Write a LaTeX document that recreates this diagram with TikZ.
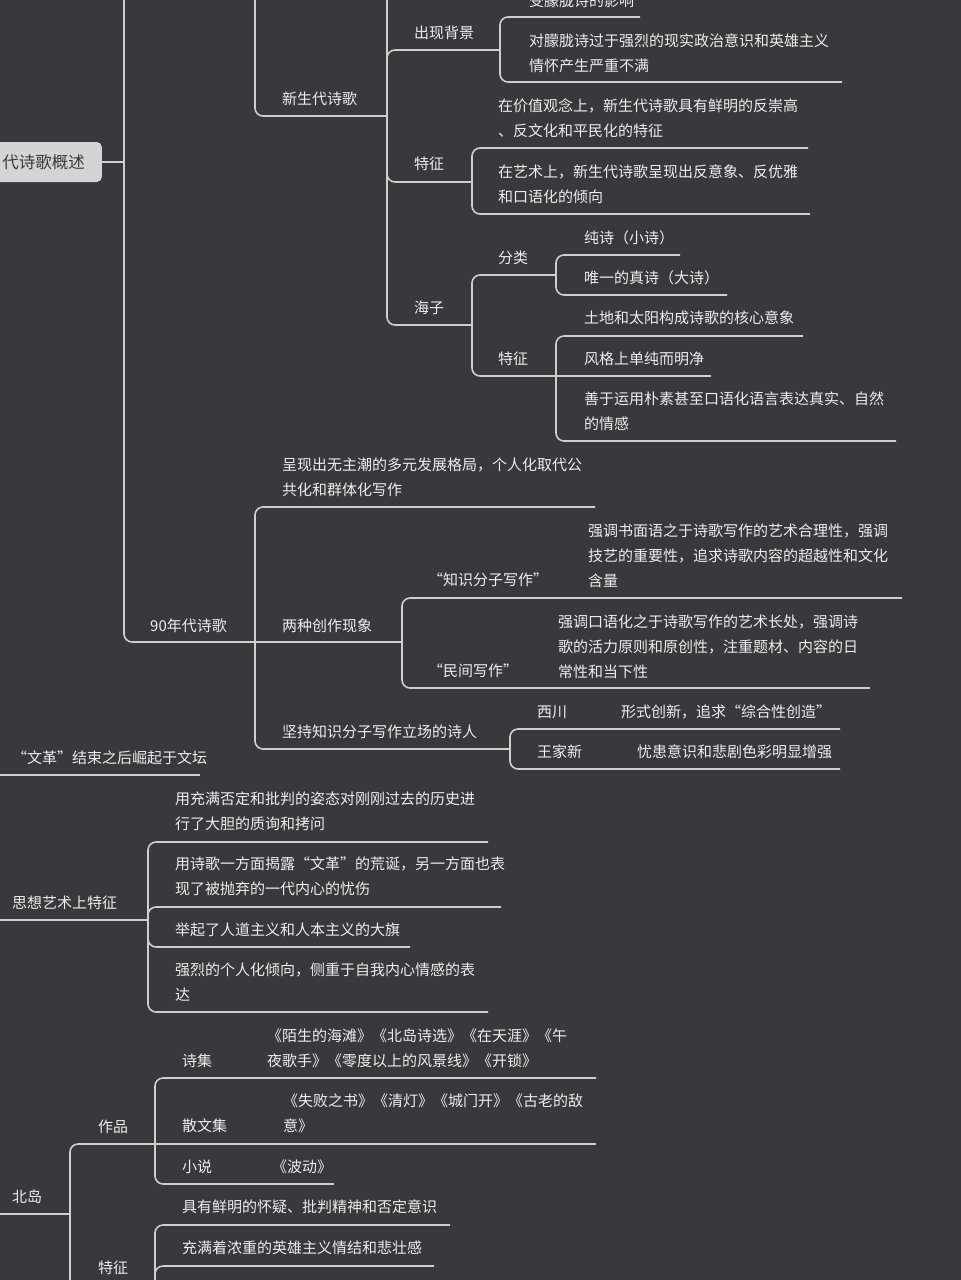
\documentclass[tikz,border=0pt]{standalone}
\usepackage{fontspec}
\setmainfont{Noto Sans CJK SC}
\definecolor{bg}{HTML}{38393D}
\definecolor{ln}{HTML}{CFCFCF}
\definecolor{tx}{HTML}{EDEDED}
\begin{document}
\begin{tikzpicture}[x=1pt,y=-1pt,
  ln/.style={draw=ln,line width=1.6pt,rounded corners=8pt},
  t/.style={anchor=west,inner sep=0pt,text=tx,align=left,font=\fontsize{15}{25}\selectfont}]
\fill[bg] (0,0) rectangle (961,1280);
\useasboundingbox (0,0) rectangle (961,1280);
% root box
\node[fill=ln!90!white,rounded corners=5pt,anchor=east,minimum height=40pt,inner xsep=17pt,text=bg,font=\fontsize{16.5}{18}\selectfont] (root) at (102,162) {代诗歌概述};
\fill[bg] (-20,0) rectangle (0,1280);
% lines
\draw[ln] (root.east) -- (124,162);
\draw[ln] (124,0) |- (255,642);
\draw[ln] (255,0) |- (387,116);
\draw[ln] (255,642) |- (595,507);
\draw[ln] (255,642) -- (402,642);
\draw[ln] (255,642) |- (510,749);
\draw[ln] (387,0) -- (387,116);
\draw[ln] (387,116) |- (500,50);
\draw[ln] (387,116) |- (472,182);
\draw[ln] (387,116) |- (472,325);
\draw[ln] (500,50) |- (640,17);
\draw[ln] (500,50) |- (842,82);
\draw[ln] (472,182) |- (808,148);
\draw[ln] (472,182) |- (810,214);
\draw[ln] (472,325) |- (556,275);
\draw[ln] (472,325) |- (556,376);
\draw[ln] (556,275) |- (680,255);
\draw[ln] (556,275) |- (727,295);
\draw[ln] (556,376) |- (803,336);
\draw[ln] (556,376) -- (711,376);
\draw[ln] (556,376) |- (896,441);
\draw[ln] (402,642) |- (902,598);
\draw[ln] (402,642) |- (870,688);
\draw[ln] (510,749) |- (840,729);
\draw[ln] (510,749) |- (840,769);
\draw[ln] (0,775) -- (200,775);
\draw[ln] (0,920) -- (148,920);
\draw[ln] (148,920) |- (488,842);
\draw[ln] (148,920) |- (501,907);
\draw[ln] (148,920) |- (410,947);
\draw[ln] (148,920) |- (488,1012);
\draw[ln] (0,1214) -- (70,1214);
\draw[ln] (70,1214) |- (155,1144);
\draw[ln] (70,1214) -- (70,1290);
\draw[ln] (155,1144) |- (596,1078);
\draw[ln] (155,1144) -- (596,1144);
\draw[ln] (155,1144) |- (334,1184);
\draw[ln] (155,1295) |- (450,1225);
\draw[ln] (155,1295) |- (434,1266);
% texts
\node[t] (a1) at (282,99) {新生代诗歌};
\node[t] (a2) at (414,33) {出现背景};
\node[t] (a3) at (414,164) {特征};
\node[t] (a4) at (414,308) {海子};
\node[t] (b1) at (529,1) {受朦胧诗的影响};
\node[t] (b2) at (529,53.5) {对朦胧诗过于强烈的现实政治意识和英雄主义\\情怀产生严重不满};
\node[t] (b3) at (498,118.5) {在价值观念上，新生代诗歌具有鲜明的反崇高\\、反文化和平民化的特征};
\node[t] (b4) at (498,184.5) {在艺术上，新生代诗歌呈现出反意象、反优雅\\和口语化的倾向};
\node[t] (c1) at (498,258) {分类};
\node[t] (c2) at (498,359) {特征};
\node[t] (d1) at (584,238) {纯诗（小诗）};
\node[t] (d2) at (584,278) {唯一的真诗（大诗）};
\node[t] (d3) at (584,318) {土地和太阳构成诗歌的核心意象};
\node[t] (d4) at (584,359) {风格上单纯而明净};
\node[t] (d5) at (584,411.5) {善于运用朴素甚至口语化语言表达真实、自然\\的情感};
\node[t] (e0) at (150,626) {90年代诗歌};
\node[t] (e1) at (282,477.5) {呈现出无主潮的多元发展格局，个人化取代公\\共化和群体化写作};
\node[t] (e2) at (282,626) {两种创作现象};
\node[t] (e3) at (282,732) {坚持知识分子写作立场的诗人};
\node[t] (f1) at (428,580) {“知识分子写作”};
\node[t] (f1d) at (588,555.5) {强调书面语之于诗歌写作的艺术合理性，强调\\技艺的重要性，追求诗歌内容的超越性和文化\\含量};
\node[t] (f2) at (428,671) {“民间写作”};
\node[t] (f2d) at (558,646.5) {强调口语化之于诗歌写作的艺术长处，强调诗\\歌的活力原则和原创性，注重题材、内容的日\\常性和当下性};
\node[t] (g1) at (537,712) {西川};
\node[t] (g1d) at (621,712) {形式创新，追求“综合性创造”};
\node[t] (g2) at (537,752) {王家新};
\node[t] (g2d) at (637,752) {忧患意识和悲剧色彩明显增强};
\node[t] (h1) at (12,758) {“文革”结束之后崛起于文坛};
\node[t] (h2) at (12,903) {思想艺术上特征};
\node[t] (i1) at (175,811.5) {用充满否定和批判的姿态对刚刚过去的历史进\\行了大胆的质询和拷问};
\node[t] (i2) at (175,876.5) {用诗歌一方面揭露“文革”的荒诞，另一方面也表\\现了被抛弃的一代内心的忧伤};
\node[t] (i3) at (175,930) {举起了人道主义和人本主义的大旗};
\node[t] (i4) at (175,982.5) {强烈的个人化倾向，侧重于自我内心情感的表\\达};
\node[t] (j0) at (12,1197) {北岛};
\node[t] (j1) at (98,1127) {作品};
\node[t] (j2) at (98,1268) {特征};
\node[t] (k1) at (182,1061) {诗集};
\node[t] (k1d) at (267,1048.5) {《陌生的海滩》《北岛诗选》《在天涯》《午\\夜歌手》《零度以上的风景线》《开锁》};
\node[t] (k2) at (182,1126) {散文集};
\node[t] (k2d) at (283,1113.5) {《失败之书》《清灯》《城门开》《古老的敌\\意》};
\node[t] (k3) at (182,1167) {小说};
\node[t] (k3d) at (272,1167) {《波动》};
\node[t] (l1) at (182,1207) {具有鲜明的怀疑、批判精神和否定意识};
\node[t] (l2) at (182,1248) {充满着浓重的英雄主义情结和悲壮感};
\end{tikzpicture}
\end{document}
